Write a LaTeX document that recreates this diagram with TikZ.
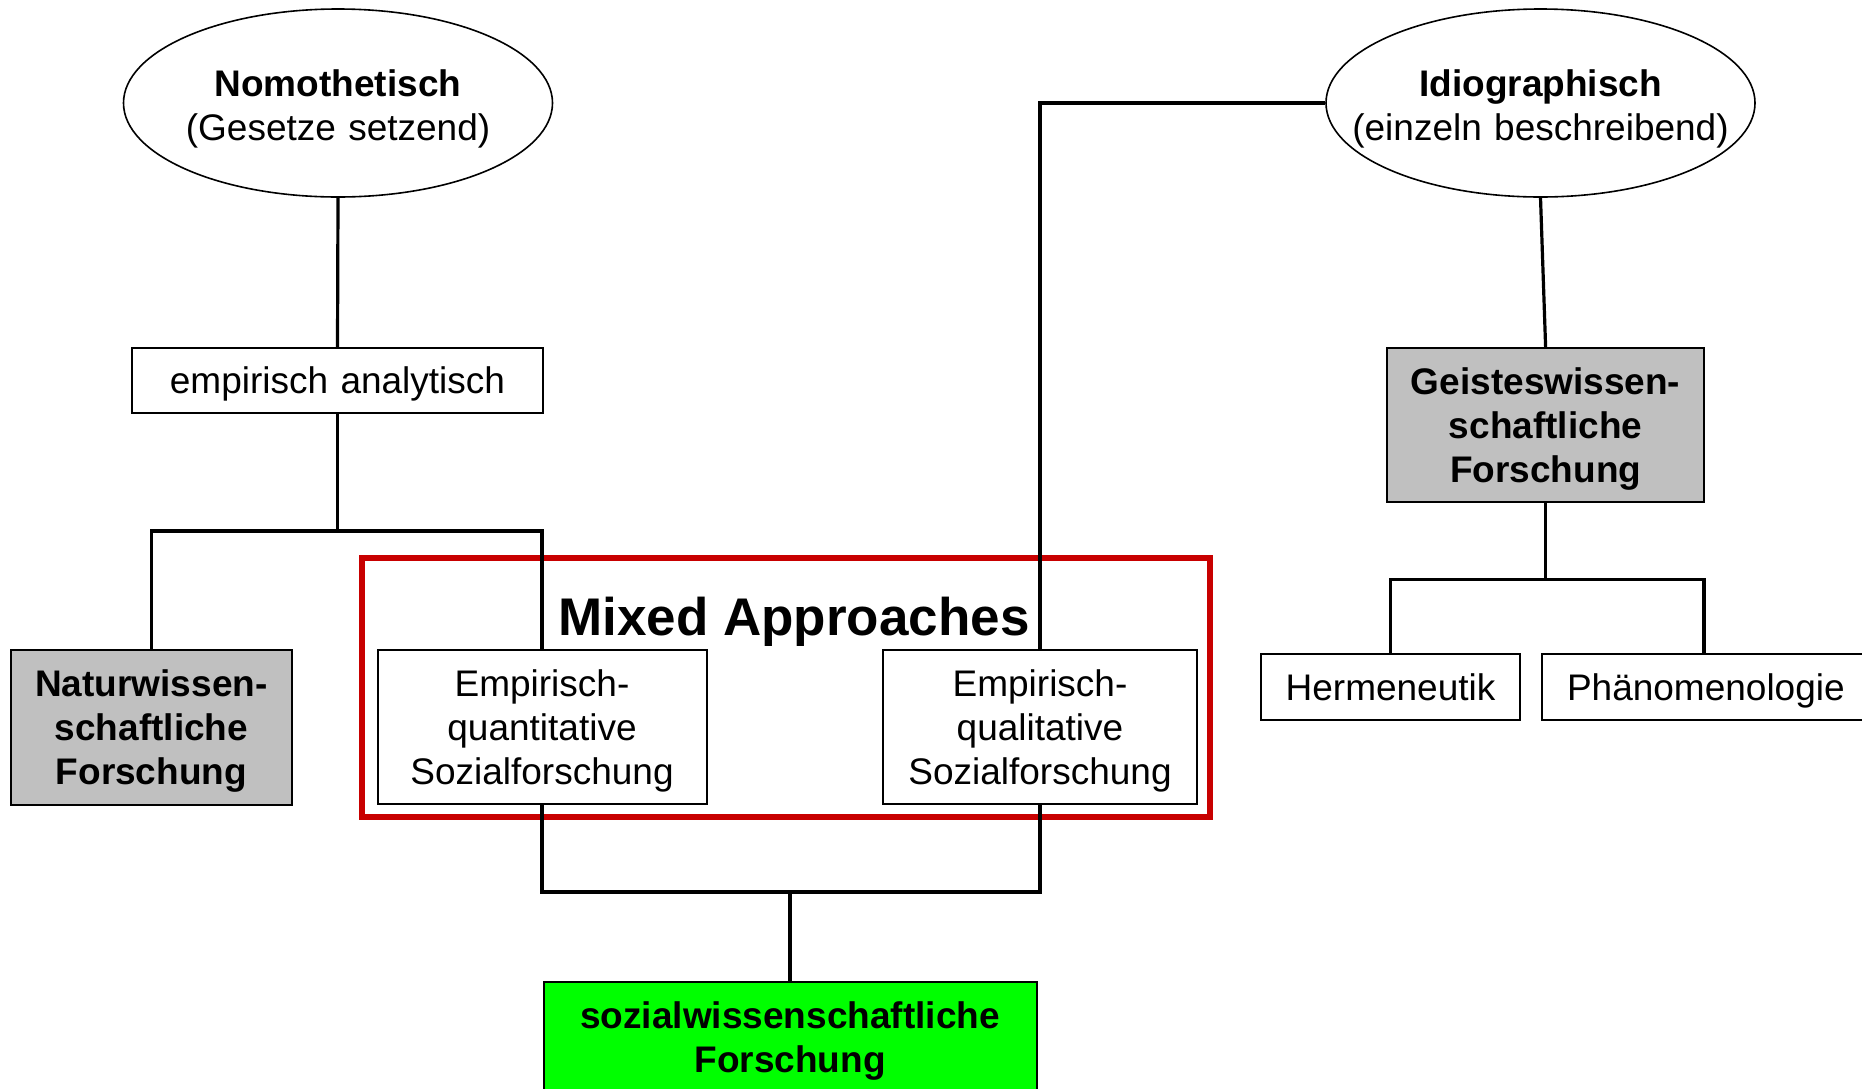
\documentclass[tikz,border=0pt]{standalone}
\usepackage{fontspec}
\setmainfont{Liberation Sans}
\usetikzlibrary{shapes.geometric}
\definecolor{boxgray}{RGB}{192,192,192}
\definecolor{boxgreen}{RGB}{0,255,0}
\definecolor{framered}{RGB}{200,0,0}
% struts giving every text block the font's full ascent and descent
\newcommand\topline{\rule{0pt}{17pt}}
\newcommand\ovaltopline{\rule{0pt}{19.5pt}}
\newcommand\botline{\rule[-3.9pt]{0pt}{3.9pt}}
\begin{document}
\begin{tikzpicture}[x=0.5pt,y=-0.5pt,
  txt/.style={font=\fontsize{18.5pt}{22pt}\selectfont, align=center},
  oval/.style={txt, ellipse, draw, line width=0.8pt, fill=white,
               text width=200pt, inner xsep=-40pt, inner ysep=0pt,
               minimum width=214.5pt, minimum height=94pt,
               execute at begin node=\ovaltopline, execute at end node=\botline},
  box/.style={txt, draw, line width=1pt, fill=white, inner sep=0pt, rectangle,
              execute at begin node=\topline, execute at end node=\botline},
  graybox/.style={box, fill=boxgray, font=\fontsize{18.5pt}{22pt}\selectfont\bfseries},
  conn/.style={line width=1.6pt}
]
\useasboundingbox (0,0) rectangle (1862,1088);
\clip (0,0) rectangle (1862,1088);

% red frame around the two empirical approaches
\node (mixedframe) [draw=framered, line width=3.3pt, inner sep=0pt,
       minimum width=424pt, minimum height=129.5pt] at (786,687.5) {};
\node (mixedlabel) [anchor=base, font=\fontsize{26.5pt}{30pt}\selectfont\bfseries]
       at (794,635) {Mixed Approaches};

% left branch
\node (nomo) [oval] at (338,103) {\textbf{Nomothetisch}\\(Gesetze setzend)};
\node (ea) [box, text width=205.5pt, minimum height=32.5pt] at (337.5,380.5) {empirisch analytisch};
\node (nat) [graybox, text width=140.5pt, minimum height=77.5pt] at (151.4,727) {Naturwissen-\\schaftliche\\Forschung};
\node (quant) [box, text width=164.5pt, minimum height=77pt] at (542,727) {Empirisch-\\quantitative\\Sozialforschung};

% right branch
\node (idio) [oval] at (1540.5,103) {\textbf{Idiographisch}\\(einzeln beschreibend)};
\node (qual) [box, text width=156.75pt, minimum height=77pt] at (1040,727) {Empirisch-\\qualitative\\Sozialforschung};
\node (geist) [graybox, text width=158.5pt, minimum height=77pt] at (1545.6,425) {Geisteswissen-\\schaftliche\\Forschung};
\node (herm) [box, text width=129.5pt, minimum height=33pt] at (1390.5,687) {Hermeneutik};
% this box runs past the right edge of the page
\node (phan) [box, anchor=west, align=left, text width=155pt, inner xsep=12.5pt,
              minimum height=33pt] at (1541,687) {Phänomenologie};
\coordinate (phantop) at (1704,654);

% common result
\node (soz) [graybox, fill=boxgreen, text width=246.5pt, minimum height=55pt] at (790,1037) {sozialwissenschaftliche\\Forschung};

% junction points
\coordinate (j1) at (337.5,531);
\coordinate (j2) at (790,892);
\coordinate (j3) at (1545.6,579.5);

% connectors
\draw[conn] (nomo.south) -- (ea.north);
\draw[conn] (ea.south) -- (j1);
\draw[conn] (nat.north) -- (nat.north |- j1) -- (quant.north |- j1) -- (quant.north);
\draw[conn] (idio.west) -| (qual.north);
\draw[conn] (idio.south) -- (geist.north);
\draw[conn] (geist.south) -- (j3);
\draw[conn] (herm.north) -- (herm.north |- j3) -- (phantop |- j3) -- (phantop);
\draw[conn] (quant.south) -- (quant.south |- j2) -- (qual.south |- j2) -- (qual.south);
\draw[conn] (j2) -- (soz.north);
\end{tikzpicture}
\end{document}
